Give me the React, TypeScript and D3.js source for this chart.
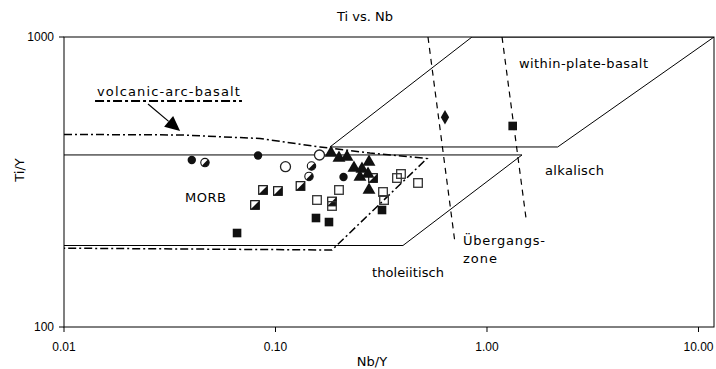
import React from "react";
import * as d3 from "d3";

// Ti/Y vs Nb/Y discrimination diagram for basalts

const WIDTH = 716;
const HEIGHT = 369;

const xDomain: [number, number] = [0.01, 11.84];
const yDomain: [number, number] = [100, 1000];

const xTicks = [0.01, 0.1, 1, 10];
const xTickLabels = ["0.01", "0.10", "1.00", "10.00"];
const yTicks = [100, 1000];
const yTickLabels = ["100", "1000"];

// samples as [Nb/Y, Ti/Y]
const filledCircles = [[0.0402, 376.5], [0.0827, 390.4], [0.2097, 329.0]];
const halfCircles = [[0.0464, 369.1], [0.148, 359.1], [0.144, 330.4]];
const openCircles = [[0.1115, 357.1], [0.1614, 391.9]];
const triangles = [
  [0.183, 398.1], [0.1996, 382.6], [0.2178, 385.7], [0.235, 353.4], [0.2564, 350.6],
  [0.2768, 370.7], [0.2508, 329.0], [0.2738, 337.0], [0.2768, 296.8],
];
const halfSquares = [
  [0.0873, 296.8], [0.1027, 294.4], [0.08, 263.5], [0.1313, 306.4], [0.185, 270.9], [0.2891, 326.4],
];
const openSquares = [
  [0.1571, 274.1], [0.1996, 296.8], [0.185, 261.4], [0.3224, 292.1],
  [0.326, 274.1], [0.3753, 326.4], [0.392, 337.0], [0.4719, 313.8],
];
const filledSquares = [[0.0658, 210.9], [0.1554, 237.6], [0.179, 230.1], [0.3189, 253.2], [1.323, 493.4]];
const diamonds = [[0.633, 528.6]];

// field boundaries
const morbUpper = [[0.01, 392], [1.464, 392]];
const tholeiiteBoundary = [[0.01, 191], [0.4006, 191], [1.464, 392]];
const withinPlateField = [[0.181, 417.6], [2.159, 417.6], [11.84, 1000], [0.849, 1000], [0.181, 417.6]];
const transitionLeft = [[0.526, 1000], [0.706, 194.9]];
const transitionRight = [[1.178, 1000], [1.529, 237.6]];
const volcanicArcField = [
  [0.01, 461.3], [0.0354, 459.5], [0.0845, 446.7], [0.1624, 417.6], [0.2798, 398.1],
  [0.5204, 381.1], [0.185, 184.3], [0.01, 187.0],
];

// legend key for the volcanic-arc field
const legendLine = [[0.01402, 601.6], [0.0694, 601.6]];
const legendArrow = [[0.02496, 587.5], [0.0354, 474]];

// field labels: [text, Nb/Y, Ti/Y, width]
const fieldLabels: [string, number, number, number][] = [
  ["volcanic-arc-basalt", 0.01432, 623.5, 143],
  ["MORB", 0.03734, 269.8, 41],
  ["within-plate-basalt", 1.417, 781.9, 129],
  ["alkalisch", 1.88, 334.4, 59],
  ["tholeiitisch", 0.286, 148.7, 72],
  ["Übergangs-", 0.77, 191.8, 82],
  ["zone", 0.77, 166.2, 34],
];

const x = d3.scaleLog().domain(xDomain).range([64, 714]);
const y = d3.scaleLog().domain(yDomain).range([327, 37]);

const line = d3
  .line<number[]>()
  .x((d) => x(d[0]))
  .y((d) => y(d[1]));

const triSym = d3.symbol().type(d3.symbolTriangle).size(72)()!;
const diamondSym = d3.symbol().type(d3.symbolDiamond).size(60)()!;

const LABEL_FONT = "'DejaVu Sans', sans-serif";
const TICK_FONT = "'Liberation Sans', Arial, sans-serif";

function Arrow() {
  const [a, b] = legendArrow;
  const x1 = x(a[0]), y1 = y(a[1]), x2 = x(b[0]), y2 = y(b[1]);
  const dx = x2 - x1, dy = y2 - y1;
  const len = Math.hypot(dx, dy);
  const ux = dx / len, uy = dy / len;
  const headLen = 15, headW = 7;
  const bx = x2 - ux * headLen, by = y2 - uy * headLen;
  const pts = [
    [x2, y2],
    [bx - uy * headW, by + ux * headW],
    [bx + uy * headW, by - ux * headW],
  ];
  return (
    <g>
      <line x1={x1} y1={y1} x2={bx} y2={by} stroke="#000" strokeWidth={1.2} />
      <polygon points={pts.map((p) => p.join(",")).join(" ")} fill="#000" />
    </g>
  );
}

export default function App() {
  const s = 4.3; // half side of square markers
  const r = 4.2;
  const halfCirclePath = `M${r * Math.SQRT1_2},${-r * Math.SQRT1_2} A${r},${r} 0 0 1 ${-r * Math.SQRT1_2},${r * Math.SQRT1_2} Z`;
  return (
    <svg
      width={WIDTH}
      height={HEIGHT}
      style={{ position: "absolute", left: 0, top: 0, display: "block", background: "#fff" }}
    >
      <defs>
        <clipPath id="plot-area">
          <rect x={64} y={37} width={650} height={290} />
        </clipPath>
      </defs>

      {/* title */}
      <text x={365} y={21} textAnchor="middle" fontFamily={LABEL_FONT} fontSize={13} fill="#000">
        Ti vs. Nb
      </text>

      {/* frame */}
      <rect x={64} y={37} width={650} height={290} fill="none" stroke="#000" strokeWidth={1} />

      {/* axes ticks */}
      {xTicks.map((t, i) => (
        <g key={"xt" + i}>
          <line x1={x(t)} x2={x(t)} y1={327} y2={332} stroke="#000" />
          <text x={x(t)} y={351} textAnchor="middle" fontFamily={TICK_FONT} fontSize={12} fill="#000">
            {xTickLabels[i]}
          </text>
        </g>
      ))}
      {yTicks.map((t, i) => (
        <g key={"yt" + i}>
          <line x1={59} x2={64} y1={y(t)} y2={y(t)} stroke="#000" />
          <text x={54} y={y(t) + 4} textAnchor="end" fontFamily={TICK_FONT} fontSize={12} fill="#000">
            {yTickLabels[i]}
          </text>
        </g>
      ))}
      <text x={372} y={366} textAnchor="middle" fontFamily={LABEL_FONT} fontSize={13} fill="#000">
        Nb/Y
      </text>
      <text
        transform={`translate(24,170) rotate(-90)`}
        textAnchor="middle"
        fontFamily={LABEL_FONT}
        fontSize={13}
        fill="#000"
      >
        Ti/Y
      </text>

      <g clipPath="url(#plot-area)">
        {/* field boundaries */}
        <path d={line(morbUpper)!} fill="none" stroke="#000" strokeWidth={1} />
        <path d={line(tholeiiteBoundary)!} fill="none" stroke="#000" strokeWidth={1} />
        <path d={line(withinPlateField)!} fill="none" stroke="#000" strokeWidth={1} />
        <path d={line(transitionLeft)!} fill="none" stroke="#000" strokeWidth={1.2} strokeDasharray="6,5" />
        <path d={line(transitionRight)!} fill="none" stroke="#000" strokeWidth={1.2} strokeDasharray="6,5" />
        <path
          d={line(volcanicArcField)!}
          fill="none"
          stroke="#000"
          strokeWidth={1.5}
          strokeDasharray="8,3,2,3"
        />

        {/* samples */}
        {filledSquares.map((d, i) => (
          <rect key={"fs" + i} x={x(d[0]) - s} y={y(d[1]) - s} width={2 * s} height={2 * s} fill="#111" />
        ))}
        {halfSquares.map((d, i) => (
          <g key={"hs" + i} transform={`translate(${x(d[0])},${y(d[1])})`}>
            <rect x={-s} y={-s} width={2 * s} height={2 * s} fill="#fff" stroke="#111" strokeWidth={1.2} />
            <polygon points={`${s},${-s} ${s},${s} ${-s},${s}`} fill="#111" />
          </g>
        ))}
        {openSquares.map((d, i) => (
          <rect
            key={"os" + i}
            x={x(d[0]) - s}
            y={y(d[1]) - s}
            width={2 * s}
            height={2 * s}
            fill="none"
            stroke="#333"
            strokeWidth={1.3}
          />
        ))}
        {filledCircles.map((d, i) => (
          <circle key={"fc" + i} cx={x(d[0])} cy={y(d[1])} r={r} fill="#111" />
        ))}
        {halfCircles.map((d, i) => (
          <g key={"hc" + i} transform={`translate(${x(d[0])},${y(d[1])})`}>
            <circle r={r} fill="#fff" stroke="#111" strokeWidth={1.1} />
            <path d={halfCirclePath} fill="#111" />
          </g>
        ))}
        {openCircles.map((d, i) => (
          <circle key={"oc" + i} cx={x(d[0])} cy={y(d[1])} r={5} fill="#fff" stroke="#222" strokeWidth={1.3} />
        ))}
        {triangles.map((d, i) => (
          <path key={"tr" + i} d={triSym} transform={`translate(${x(d[0])},${y(d[1])})`} fill="#111" />
        ))}
        {diamonds.map((d, i) => (
          <path key={"dm" + i} d={diamondSym} transform={`translate(${x(d[0])},${y(d[1])})`} fill="#111" />
        ))}
      </g>

      {/* volcanic-arc key */}
      <path d={line(legendLine)!} fill="none" stroke="#000" strokeWidth={2.2} strokeDasharray="9,3,3,3" />
      <Arrow />

      {/* field labels */}
      {fieldLabels.map(([t, vx, vy, w], i) => (
        <text
          key={"fl" + i}
          x={x(vx)}
          y={y(vy)}
          fontFamily={LABEL_FONT}
          fontSize={13}
          textLength={w}
          lengthAdjust="spacing"
          fill="#000"
        >
          {t}
        </text>
      ))}
    </svg>
  );
}
